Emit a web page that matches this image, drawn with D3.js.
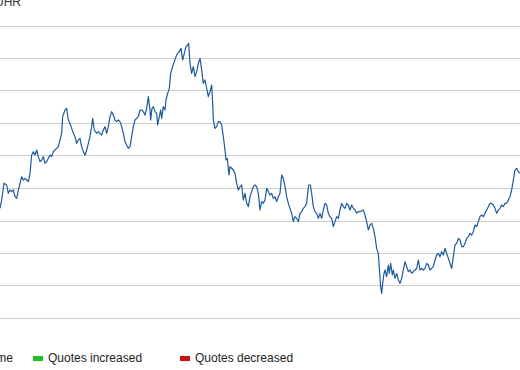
<!DOCTYPE html>
<html>
<head>
<meta charset="utf-8">
<script src="https://cdn.jsdelivr.net/npm/d3@7"></script>
<style>
html,body{margin:0;padding:0;background:#fff;}
svg{display:block;font-family:"Liberation Sans",Arial,sans-serif;}
</style>
</head>
<body>
<svg id="chart" width="520" height="370"></svg>
<script>
// trading-day index
const days = [0,5,12,20,25,30,35,40,45,50,55,60,65,70,75,80,85,90,95,100,105,110,115,120,125,130,135,140,145,150,155,160,165,170,175,180,185,188,195,200,205,210,215,220,225,230,235,240,245,250,255,260,265,270,275,278,283,290,295,300,305,310,315,320,325,330,335,340,345,350,355,360,365,370,375,380,385,
390,395,400,405,410,415,420,425,430,435,440,445,450,452,456,460,465,470,473,478,482,485,490,495,498,503,508,512,518,523,528,533,538,543,548,553,558,563,566,570,575,580,585,590,595,600,605,610,615,620,625,630,635,638,640,645,650,655,660,665,670,675,678,682,687,
690,700,705,710,715,720,725,730,735,740,745,750,755,760,765,770,775,780,785,790,795,800,805,810,815,820,825,830,835,840,845,850,855,860,865,870,875,880,885,890,895,900,905,910,915,920,923,926,931,935,940,945,950,955,960,965,970,975,980,985,990,995,1000,1005,1010,1015,1020,1025,1030,1035,1040,1045,1050,1055,1060,1065,1070,1075,
1080,1090,1095,1100,1105,1110,1115,1120,1125,1130,1135,1138,1142,1145,1148,1152,1155,1160,1165,1168,1172,1177,1180,1185,1190,1195,1200,1205,1210,1215,1220,1225,1230,1235,1240,1245,1250,1255,1260,1265,1270,1275,1280,1285,1290,1295,1300,1305,1310,1315,1320,1325,1330,1335,1340,1345,1350,1355,1360,1365,1370,1375,1380,1385,1390,1395,1400,1405,1410,1415,1420,1425,1430,1435,1440,1445,1450,1455,1460,1465,1470,1475,1480,1485,1490,1495,1500,1505,1510,1515,1520,1525,1530,1535,1540,1545,1550,1555,1560];
// quote (chart units)
const quotes = [329,354,404,399,374,384,379,384,364,359,384,404,424,414,419,414,409,434,489,499,489,504,484,469,474,484,464,469,479,489,484,499,504,509,514,534,554,604,624,629,594,584,569,554,544,524,534,539,514,499,489,504,524,544,574,599,564,554,559,554,549,564,574,554,574,604,619,609,594,589,594,589,574,554,529,519,509,
514,544,574,594,599,604,624,624,619,609,629,664,624,594,629,634,619,614,579,604,624,599,634,624,654,674,689,734,754,769,784,794,799,809,774,794,814,819,824,764,734,754,724,739,764,779,744,704,714,689,664,679,699,644,594,569,574,589,589,579,544,504,474,479,429,
454,444,434,404,384,394,399,354,374,344,334,364,379,394,399,394,374,324,349,344,354,389,379,369,374,359,364,349,364,374,429,419,394,364,344,329,314,289,304,299,289,314,319,329,334,344,374,399,399,374,334,319,314,299,314,299,324,344,339,314,304,299,274,289,304,299,324,344,334,329,344,339,324,339,329,324,314,319,
319,324,309,289,264,279,284,269,244,209,194,149,94,74,104,134,144,124,159,134,164,129,144,119,134,114,104,119,144,169,154,139,144,134,139,144,149,174,144,149,144,149,164,159,144,149,154,174,189,194,184,199,189,209,194,179,164,149,184,219,224,239,234,214,214,224,239,244,254,249,259,279,274,289,304,309,304,314,324,334,344,344,339,329,314,324,329,339,334,344,344,354,364,384,414,444,449,439,434];
const gridValues = d3.range(0, 10).map(i => i * 97.5);
const legendItems = [
  {label: "Volume", color: "#3a6fb0"},
  {label: "Quotes increased", color: "#1fbf1f"},
  {label: "Quotes decreased", color: "#cc1111"}
];
const titleText = "UHR";

const svg = d3.select("#chart");
const x = d3.scaleLinear().domain([0, 1560]).range([0, 520]);
const y = d3.scaleLinear().domain([0, 877.5]).range([318, 25.5]);

// gridlines
svg.append("g").selectAll("line").data(gridValues).join("line")
  .attr("x1", 0).attr("x2", 520)
  .attr("y1", d => Math.round(y(d)) + 0.5).attr("y2", d => Math.round(y(d)) + 0.5)
  .attr("stroke", "#cfcfcf").attr("stroke-width", 1);

// title (partially off-canvas)
svg.append("text").attr("x", -5).attr("y", 6)
  .attr("font-size", 12).attr("fill", "#333").text(titleText);

// line
const data = days.map((d, i) => [d, quotes[i]]);
svg.append("path").datum(data)
  .attr("fill", "none").attr("stroke", "#1c5a9c").attr("stroke-width", 1.2)
  .attr("stroke-linejoin", "round")
  .attr("d", d3.line().x(d => x(d[0])).y(d => y(d[1])));

// legend
const lg = svg.append("g").attr("font-size", 12).attr("fill", "#222");
const legendX = [13, 48, 195];
lg.append("text").attr("x", legendX[0]).attr("y", 362).attr("text-anchor", "end").attr("fill", "#222").text(legendItems[0].label);
lg.append("rect").attr("x", -58).attr("y", 356).attr("width", 10).attr("height", 5).attr("fill", legendItems[0].color);
[1, 2].forEach(i => {
  lg.append("rect").attr("x", legendX[i] - 15).attr("y", 356).attr("width", 10).attr("height", 5).attr("fill", legendItems[i].color);
  lg.append("text").attr("x", legendX[i]).attr("y", 362).attr("fill", "#222").text(legendItems[i].label);
});
</script>
</body>
</html>
